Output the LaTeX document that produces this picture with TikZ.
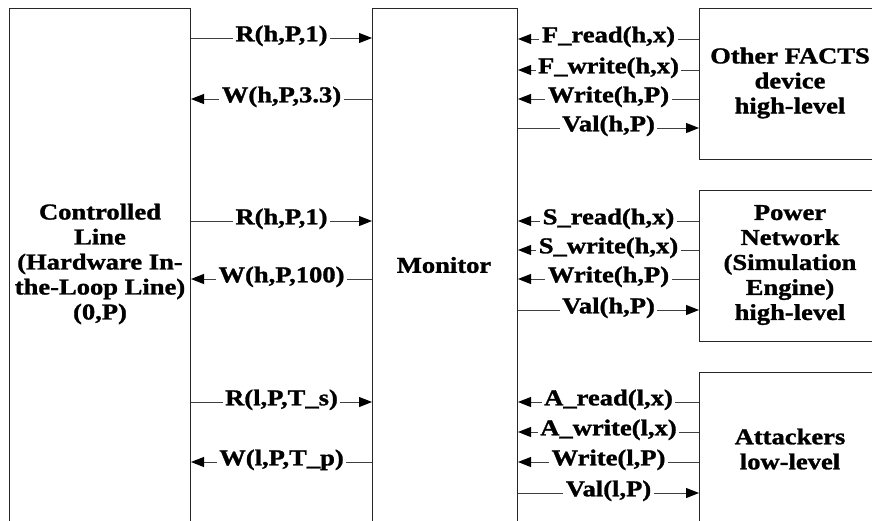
\documentclass[tikz,border=0pt]{standalone}
\usepackage{fontspec}
\setmainfont[FakeStretch=1.17, BoldFeatures={FakeBold=1.3}]{Liberation Serif}
\usetikzlibrary{arrows.meta}
\tikzset{
  box/.style={draw=black!85, line width=1pt, anchor=north west, inner sep=0pt},
  boxtext/.style={font=\fontsize{22.7}{25}\selectfont\bfseries, align=center, inner sep=0pt},
  sig/.style={draw=black!75, line width=1pt,
    arrows={-Triangle[length=13pt, width=10pt, color=black]}},
  msg/.style={midway, fill=white, inner xsep=2.5pt, inner ysep=0pt,
    text height=0.8em, text depth=0.14em,
    font=\fontsize{22.7}{25}\selectfont\bfseries}
}
\begin{document}
\begin{tikzpicture}[x=1pt,y=-1pt]
\useasboundingbox (0,0) rectangle (872,520);
\clip (0,0) rectangle (872,520);

% blocks
\node[box, minimum width=181pt, minimum height=530pt] (ctl) at (9,8) {};
\node[box, minimum width=145pt, minimum height=530pt] (mon) at (372,8) {};
\node[box, minimum width=190pt, minimum height=151pt] (fa) at (699,8) {};
\node[box, minimum width=190pt, minimum height=151pt] (pn) at (699,190) {};
\node[box, minimum width=190pt, minimum height=170pt] (at) at (699,372) {};

% block captions
\node[boxtext] (ctltxt) at (100,264) {Controlled\\Line\\(Hardware In-\\the-Loop Line)\\(0,P)};
\node[boxtext] (montxt) at (444,265) {Monitor};
\node[boxtext] (fatxt) at (790,83) {Other FACTS\\device\\high-level};
\node[boxtext] (pntxt) at (790,265) {Power\\Network\\(Simulation\\Engine)\\high-level};
\node[boxtext] (attxt) at (790,449) {Attackers\\low-level};

% controlled line <-> monitor
\draw[sig] (ctl.east |- 0,38) -- node[msg]{R(h,P,1)} (mon.west |- 0,38);
\draw[sig] (mon.west |- 0,99) -- node[msg]{W(h,P,3.3)} (ctl.east |- 0,99);
\draw[sig] (ctl.east |- 0,221) -- node[msg]{R(h,P,1)} (mon.west |- 0,221);
\draw[sig] (mon.west |- 0,279) -- node[msg]{W(h,P,100)} (ctl.east |- 0,279);
\draw[sig] (ctl.east |- 0,402) -- node[msg]{R(l,P,T\_s)} (mon.west |- 0,402);
\draw[sig] (mon.west |- 0,462) -- node[msg]{W(l,P,T\_p)} (ctl.east |- 0,462);

% monitor <-> other FACTS device
\draw[sig] (fa.west |- 0,39) -- node[msg]{F\_read(h,x)} (mon.east |- 0,39);
\draw[sig] (fa.west |- 0,70) -- node[msg]{F\_write(h,x)} (mon.east |- 0,70);
\draw[sig] (fa.west |- 0,99) -- node[msg]{Write(h,P)} (mon.east |- 0,99);
\draw[sig] (mon.east |- 0,128) -- node[msg]{Val(h,P)} (fa.west |- 0,128);

% monitor <-> power network
\draw[sig] (pn.west |- 0,221) -- node[msg]{S\_read(h,x)} (mon.east |- 0,221);
\draw[sig] (pn.west |- 0,250) -- node[msg]{S\_write(h,x)} (mon.east |- 0,250);
\draw[sig] (pn.west |- 0,279) -- node[msg]{Write(h,P)} (mon.east |- 0,279);
\draw[sig] (mon.east |- 0,310) -- node[msg]{Val(h,P)} (pn.west |- 0,310);

% monitor <-> attackers
\draw[sig] (at.west |- 0,402) -- node[msg]{A\_read(l,x)} (mon.east |- 0,402);
\draw[sig] (at.west |- 0,432) -- node[msg]{A\_write(l,x)} (mon.east |- 0,432);
\draw[sig] (at.west |- 0,462) -- node[msg]{Write(l,P)} (mon.east |- 0,462);
\draw[sig] (mon.east |- 0,493) -- node[msg]{Val(l,P)} (at.west |- 0,493);
\end{tikzpicture}
\end{document}
